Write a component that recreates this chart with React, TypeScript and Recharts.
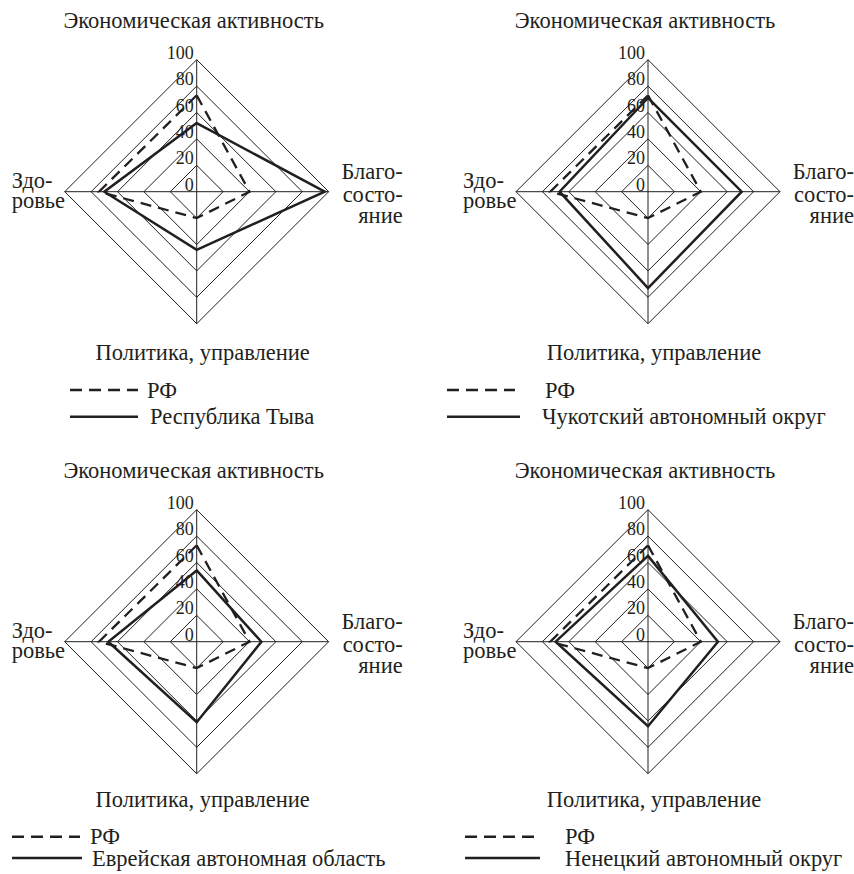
import { PolarAngleAxis, PolarGrid, PolarRadiusAxis, Radar, RadarChart } from 'recharts'

// ── Data ──

const AXES = ['Экономическая активность', 'Благосостояние', 'Политика, управление', 'Здоровье']
const AXIS_LINES = [['Экономическая активность'], ['Благо-', 'состо-', 'яние'], ['Политика, управление'], ['Здо-', 'ровье']]
const TICKS = [0, 20, 40, 60, 80, 100]

const RF = [73, 40, 20, 74]
const TYVA = [52, 97, 44, 70]
const CHUKOTKA = [71, 71, 73, 67]
const EAO = [54, 49, 61, 67]
const NAO = [65, 53, 64, 70]

const RF_NAME = 'РФ'
const REGION_NAMES = [
  'Республика Тыва',
  'Чукотский автономный округ',
  'Еврейская автономная область',
  'Ненецкий автономный округ',
]
const REGION_VALUES = [TYVA, CHUKOTKA, EAO, NAO]

// ── Style ──

const INK = '#231f20'
const FONT = 'Liberation Serif'
const LABEL_SIZE = 22.5
const TICK_SIZE = 18
const R = 132
const CY = 191.7

// panel placement: left/top of the panel box, centre inside it, legend layout
const PANELS = [
  { left: 0, top: 0, cx: 196.7, bottomDy: 168, leg: { x1: 70, x2: 138, x2s: 138, tx: 147, txs: 150, y1: 198.3, y2: 225 } },
  { left: 427, top: 0, cx: 221, bottomDy: 168, leg: { x1: 20, x2: 88, x2s: 93, tx: 118, txs: 115, y1: 198.3, y2: 225 } },
  { left: 0, top: 450, cx: 196.7, bottomDy: 165, leg: { x1: 12, x2: 80, x2s: 82, tx: 90, txs: 92, y1: 195, y2: 216.3 } },
  { left: 427, top: 450, cx: 221, bottomDy: 165, leg: { x1: 38, x2: 108, x2s: 113, tx: 138, txs: 138, y1: 195, y2: 216.3 } },
]

function makeAngleTick(cx: number, cy: number, bottomDy: number) {
  return (props: any) => {
    const i = AXES.indexOf(props.payload.value)
    const lines = AXIS_LINES[i]
    const common = { fill: INK, fontSize: LABEL_SIZE, fontFamily: FONT }
    if (i === 0) {
      return (
        <text {...common} textAnchor="middle" x={cx - 3} y={cy - 164}>
          {lines[0]}
        </text>
      )
    }
    if (i === 1) {
      const dys = [-13, 10, 31]
      return (
        <g>
          {lines.map((l, k) => (
            <text {...common} key={k} textAnchor="end" x={cx + R + 74} y={cy + dys[k]}>
              {l}
            </text>
          ))}
        </g>
      )
    }
    if (i === 2) {
      return (
        <text {...common} textAnchor="middle" x={cx + 6} y={cy + bottomDy}>
          {lines[0]}
        </text>
      )
    }
    const dys = [-4, 16]
    return (
      <g>
        {lines.map((l, k) => (
          <text {...common} key={k} textAnchor="start" x={cx - R - 53} y={cy + dys[k]}>
            {l}
          </text>
        ))}
      </g>
    )
  }
}

function RadiusTick(props: any) {
  return (
    <text fill={INK} fontFamily={FONT} fontSize={TICK_SIZE} textAnchor="end" x={props.x - 3} y={props.y - 1}>
      {props.payload.value}
    </text>
  )
}

function Panel({ index }: { index: number }) {
  const p = PANELS[index]
  const values = REGION_VALUES[index]
  const data = AXES.map((axis, i) => ({ axis, rf: RF[i], region: values[i] }))
  const angleTick = makeAngleTick(p.cx, CY, p.bottomDy)
  return (
    <div style={{ position: 'absolute', left: p.left, top: p.top, width: 427, height: 450 }}>
      <RadarChart
        cx={p.cx}
        cy={CY}
        data={data}
        height={450}
        margin={{ top: 0, right: 0, bottom: 0, left: 0 }}
        outerRadius={R}
        width={427}
      >
        <PolarGrid gridType="polygon" stroke={INK} strokeOpacity={1} strokeWidth={1} />
        <PolarAngleAxis axisLine={false} dataKey="axis" tick={angleTick} tickLine={false} />
        <PolarRadiusAxis
          angle={90}
          axisLine={false}
          domain={[0, 100]}
          tick={RadiusTick}
          tickLine={false}
          ticks={TICKS as any}
        />
        <Radar
          dataKey="rf"
          fill="none"
          isAnimationActive={false}
          name={RF_NAME}
          stroke={INK}
          strokeDasharray="11 7"
          strokeWidth={2.3}
        />
        <Radar
          dataKey="region"
          fill="none"
          isAnimationActive={false}
          name={REGION_NAMES[index]}
          stroke={INK}
          strokeWidth={2.5}
        />
      </RadarChart>
      {/* Legend */}
      <svg height={450} style={{ position: 'absolute', left: 0, top: 0, pointerEvents: 'none' }} width={427}>
        <line stroke={INK} strokeDasharray="12 7" strokeWidth={2.5} x1={p.leg.x1} x2={p.leg.x2} y1={CY + p.leg.y1} y2={CY + p.leg.y1} />
        <text fill={INK} fontFamily={FONT} fontSize={LABEL_SIZE} x={p.leg.tx} y={CY + p.leg.y1 + 7.5}>
          {RF_NAME}
        </text>
        <line stroke={INK} strokeWidth={2.5} x1={p.leg.x1} x2={p.leg.x2s} y1={CY + p.leg.y2} y2={CY + p.leg.y2} />
        <text fill={INK} fontFamily={FONT} fontSize={LABEL_SIZE} x={p.leg.txs} y={CY + p.leg.y2 + 7.5}>
          {REGION_NAMES[index]}
        </text>
      </svg>
    </div>
  )
}

export default function App() {
  return (
    <div style={{ position: 'absolute', left: 0, top: 0, width: 854, height: 874, background: '#fff', overflow: 'hidden' }}>
      {PANELS.map((_, i) => (
        <Panel index={i} key={i} />
      ))}
    </div>
  )
}
